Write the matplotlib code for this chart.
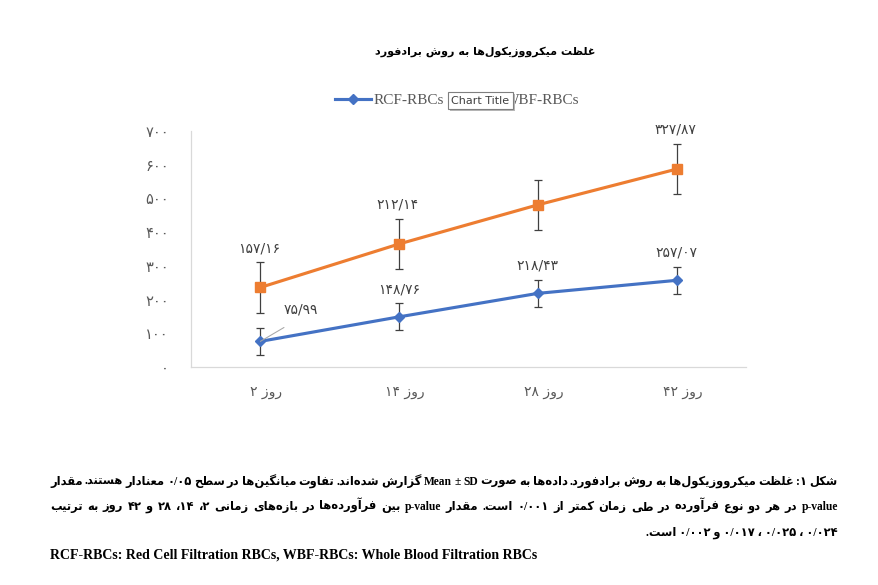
import matplotlib
matplotlib.use('Agg')
import matplotlib.pyplot as plt
from matplotlib.lines import Line2D
from matplotlib.transforms import ScaledTranslation

# ---- data ----
days = ['روز ۲', 'روز ۱۴', 'روز ۲۸', 'روز ۴۲']
rcf_mean = [75.99, 148.76, 218.43, 257.07]
rcf_sd = [40, 40, 40, 40]
wbf_mean = [236, 365, 481, 587]
wbf_sd = [75, 75, 75, 75]
rcf_labels = [75.99, 148.76, 218.43, 257.07]
wbf_labels = [157.16, 212.14, None, 327.87]
y_ticks = [0, 100, 200, 300, 400, 500, 600, 700]
series_names = ['RCF-RBCs', 'WBF-RBCs']

title = 'غلظت میکرووزیکول‌ها به روش برادفورد'
caption = [
    'شکل ۱: غلظت میکرووزیکول‌ها به روش برادفورد. داده‌ها به صورت Mean ± SD گزارش شده‌اند. تفاوت میانگین‌ها در سطح ۰/۰۵ معنادار هستند. مقدار',
    'p-value در هر دو نوع فرآورده در طی زمان کمتر از ۰/۰۰۱ است. مقدار p-value بین فرآورده‌ها در بازه‌های زمانی ۲، ۱۴، ۲۸ و ۴۲ روز به ترتیب',
    '۰/۰۲۴ ، ۰/۰۲۵ ، ۰/۰۱۷ و ۰/۰۰۲ است.',
]
caption_en = 'RCF-RBCs: Red Cell Filtration RBCs, WBF-RBCs: Whole Blood Filtration RBCs'

BLUE = '#4472C4'
ORANGE = '#ED7D31'
W, H = 879, 585

# ---- minimal arabic shaping + bidi, matplotlib does neither ----
# char -> (first presentation form, dual joining)
JOIN = {
    'ا': (0xFE8D, False), 'آ': (0xFE81, False), 'د': (0xFEA9, False),
    'ذ': (0xFEAB, False), 'ر': (0xFEAD, False), 'ز': (0xFEAF, False),
    'ژ': (0xFB8A, False), 'و': (0xFEED, False),
    'ب': (0xFE8F, True), 'پ': (0xFB56, True), 'ت': (0xFE95, True),
    'ث': (0xFE99, True), 'ج': (0xFE9D, True), 'چ': (0xFB7A, True),
    'ح': (0xFEA1, True), 'خ': (0xFEA5, True), 'س': (0xFEB1, True),
    'ش': (0xFEB5, True), 'ص': (0xFEB9, True), 'ض': (0xFEBD, True),
    'ط': (0xFEC1, True), 'ظ': (0xFEC5, True), 'ع': (0xFEC9, True),
    'غ': (0xFECD, True), 'ف': (0xFED1, True), 'ق': (0xFED5, True),
    'ک': (0xFB8E, True), 'گ': (0xFB92, True), 'ل': (0xFEDD, True),
    'م': (0xFEE1, True), 'ن': (0xFEE5, True), 'ه': (0xFEE9, True),
    'ی': (0xFBFC, True), 'ي': (0xFEF1, True), 'ك': (0xFED9, True),
}
LAM_ALEF = {'ا': 0xFEFB, 'آ': 0xFEF5}


def shape(s):
    units = []
    i = 0
    while i < len(s):
        c = s[i]
        if c == 'ل' and i + 1 < len(s) and s[i + 1] in LAM_ALEF:
            units.append((LAM_ALEF[s[i + 1]], False, True))
            i += 2
            continue
        if c in JOIN:
            base, dual = JOIN[c]
            units.append((base, dual, True))
        else:
            units.append((c, False, False))
        i += 1
    out = []
    for k, (base, dual, joinable) in enumerate(units):
        if not joinable:
            out.append(base)
            continue
        prev = units[k - 1] if k > 0 else None
        nxt = units[k + 1] if k + 1 < len(units) else None
        jp = prev is not None and prev[2] and prev[1]
        jn = dual and nxt is not None and nxt[2]
        out.append(chr(base + (1 if jp else 0) + (2 if jn else 0)))
    return ''.join(out).replace('\u200c', '')


def char_type(c):
    o = ord(c)
    if c.isdigit():
        return 'EN'
    if c.isascii() and c.isalpha():
        return 'L'
    if 0x0600 <= o <= 0x06FF and c != '،':
        return 'R'
    if 0xFB50 <= o <= 0xFDFF or 0xFE70 <= o <= 0xFEFF:
        return 'R'
    return 'N'


def visual(s):
    s = shape(s)
    n = len(s)
    types = [char_type(c) for c in s]
    for i in range(1, n - 1):
        if types[i] == 'N' and s[i] in '/.,:' and types[i - 1] == 'EN' and types[i + 1] == 'EN':
            types[i] = 'EN'
    strong = ['R' if t in ('R', 'EN') else t for t in types]
    res = list(strong)
    i = 0
    while i < n:
        if strong[i] == 'N':
            j = i
            while j < n and strong[j] == 'N':
                j += 1
            before = strong[i - 1] if i > 0 else 'R'
            after = strong[j] if j < n else 'R'
            d = 'L' if before == after == 'L' else 'R'
            for k in range(i, j):
                res[k] = d
            i = j
        else:
            i += 1
    levels = [2 if types[k] in ('L', 'EN') or (types[k] == 'N' and res[k] == 'L') else 1
              for k in range(n)]
    out = []
    i = 0
    while i < n:
        j = i
        while j < n and levels[j] == levels[i]:
            j += 1
        seg = list(s[i:j])
        if levels[i] == 2:
            seg = seg[::-1]
        out.extend(seg)
        i = j
    return ''.join(out[::-1])


FA_DIGITS = str.maketrans('0123456789.', '۰۱۲۳۴۵۶۷۸۹/')


def fa(v, fmt='{:.2f}'):
    return fmt.format(v).translate(FA_DIGITS)


def justify(fig, text, x0, x1, y, **kw):
    words = visual(text).split(' ')
    renderer = fig.canvas.get_renderer()
    objs = [fig.text(0, 1 - y / H, w, **kw) for w in words]
    widths = [o.get_window_extent(renderer).width for o in objs]
    gap = (x1 - x0 - sum(widths)) / (len(words) - 1)
    x = x0
    for o, w in zip(objs, widths):
        o.set_x(x / W)
        x += w + gap


# ---- figure ----
fig = plt.figure(figsize=(W / 100, H / 100), dpi=100)
ax = fig.add_axes([191 / W, 1 - 367 / H, 555 / W, 236 / H])

x = list(range(len(days)))
ax.errorbar(x, rcf_mean, yerr=rcf_sd, color=BLUE, lw=2.25, marker='D', ms=4.8,
            ecolor='#404040', elinewidth=0.9, capsize=3, capthick=0.9, zorder=3)
ax.errorbar(x, wbf_mean, yerr=wbf_sd, color=ORANGE, lw=2.25, marker='s', ms=7.5,
            ecolor='#404040', elinewidth=0.9, capsize=3, capthick=0.9, zorder=3)

lab_kw = dict(ha='center', va='center', fontsize=10, color='#404040', family='DejaVu Sans')
for i, v in enumerate(rcf_labels):
    if i == 0:
        ax.annotate('', xy=(x[i], rcf_mean[i]), xytext=(17, 10), textcoords='offset points',
                    arrowprops=dict(arrowstyle='-', color='#a6a6a6', lw=0.75, shrinkA=0, shrinkB=0),
                    zorder=4)
        ax.annotate(fa(v), xy=(x[i], rcf_mean[i]), xytext=(29, 23), textcoords='offset points', **lab_kw)
    else:
        ax.annotate(fa(v), xy=(x[i], rcf_mean[i] + rcf_sd[i]), xytext=(0, 10),
                    textcoords='offset points', **lab_kw)
for i, v in enumerate(wbf_labels):
    if v is None:
        continue
    ax.annotate(fa(v), xy=(x[i], wbf_mean[i] + wbf_sd[i]), xytext=(-1, 10),
                textcoords='offset points', **lab_kw)

ax.set_xlim(-0.5, len(days) - 0.5)
ax.set_ylim(0, 700)
ax.set_yticks(y_ticks)
ax.set_yticklabels([fa(v, '{:d}') for v in y_ticks], family='DejaVu Sans', fontsize=10.5, color='#595959')
ax.set_xticks(x)
ax.set_xticklabels([visual(d) for d in days], family='DejaVu Sans', fontsize=10, color='#595959')
ax.tick_params(axis='both', length=0)
ax.tick_params(axis='y', pad=16)
ax.tick_params(axis='x', pad=13)
shift = ScaledTranslation(0.06, 0, fig.dpi_scale_trans)
for lbl in ax.get_xticklabels():
    lbl.set_transform(lbl.get_transform() + shift)
for side in ('top', 'right'):
    ax.spines[side].set_visible(False)
for side in ('left', 'bottom'):
    ax.spines[side].set_color('#d9d9d9')
    ax.spines[side].set_linewidth(0.9)

# legend
handles = [Line2D([], [], color=BLUE, lw=2.25, marker='D', ms=4.8),
           Line2D([], [], color=ORANGE, lw=2.25, marker='s', ms=7.5)]
fig.legend(handles, series_names, loc='center', bbox_to_anchor=(457 / W, 1 - 100 / H),
           ncol=2, frameon=False, handlelength=2.35, handletextpad=0.2, columnspacing=1.4,
           prop={'family': 'Liberation Serif', 'size': 11}, labelcolor='#595959')

# "Chart Title" tooltip sitting over the legend
fig.text(482.5 / W, 1 - 102.5 / H, 'Chart Title', ha='center', va='center', fontsize=8,
         family='DejaVu Sans', color='#b8b8b8', zorder=10,
         bbox=dict(boxstyle='square,pad=0.35', fc='#b8b8b8', ec='#b8b8b8', lw=0))
fig.text(480.5 / W, 1 - 100.5 / H, 'Chart Title', ha='center', va='center', fontsize=8,
         family='DejaVu Sans', color='#404040', zorder=11,
         bbox=dict(boxstyle='square,pad=0.35', fc='white', ec='#7f7f7f', lw=0.8))

# chart title
fig.text(485 / W, 1 - 52 / H, visual(title), ha='center', va='center', fontsize=8,
         family='DejaVu Sans', weight='bold', color='black')

# caption
cap_kw = dict(family=['Liberation Serif', 'DejaVu Sans'], weight='bold', fontsize=8.3,
              color='black', ha='left', va='baseline')
justify(fig, caption[0], 50, 838, 485, **cap_kw)
justify(fig, caption[1], 50, 838, 510, **cap_kw)
fig.text(838 / W, 1 - 536 / H, visual(caption[2]), **dict(cap_kw, ha='right'))
fig.text(50 / W, 1 - 559 / H, caption_en, **dict(cap_kw, fontsize=10))

fig.savefig('out.png', dpi=100, facecolor='white')
